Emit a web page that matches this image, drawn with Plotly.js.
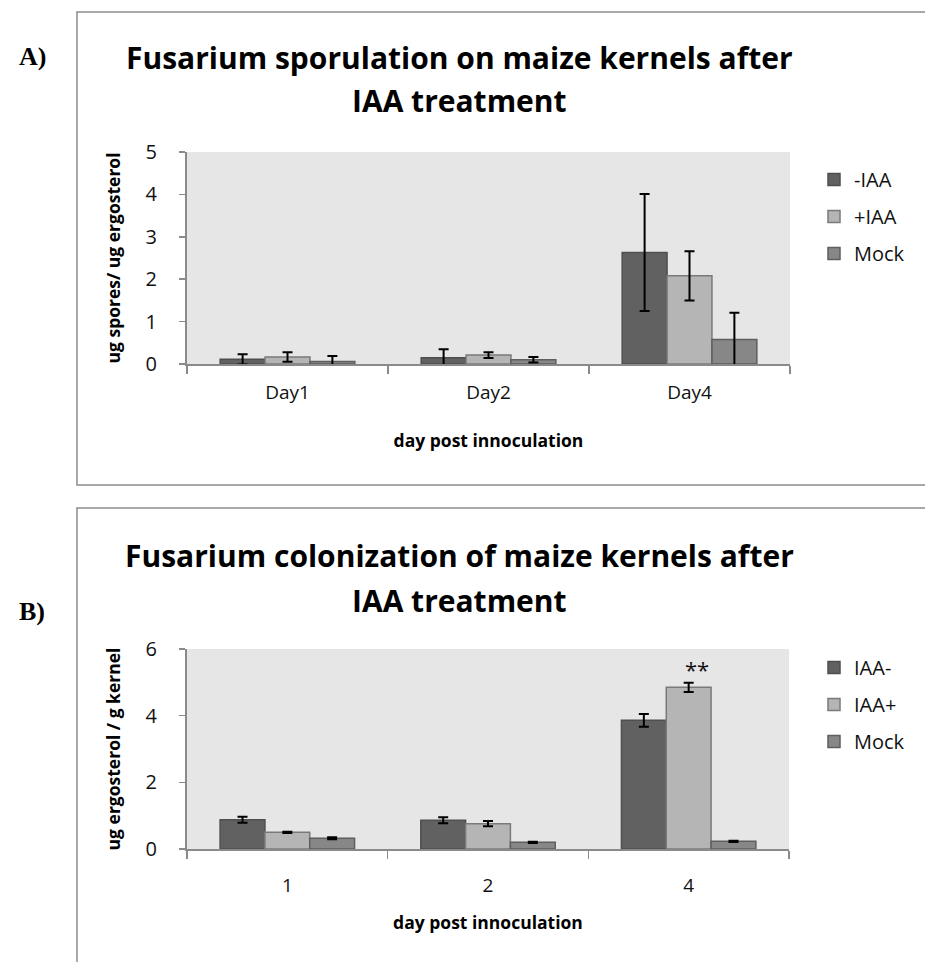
<!DOCTYPE html>
<html>
<head>
<meta charset="utf-8">
<script src="https://cdn.plot.ly/plotly-3.0.1.min.js"></script>
<style>html,body{margin:0;padding:0;background:#fff;}#chart{width:925px;height:962px;}</style>
</head>
<body>
<div id="chart"></div>
<script>
// ---- Chart A data ----
const catsA = ["Day1", "Day2", "Day4"];
const minusIAA_A = [0.11, 0.15, 2.63];
const minusIAA_A_err = [0.12, 0.20, 1.38];
const plusIAA_A = [0.165, 0.21, 2.08];
const plusIAA_A_err = [0.11, 0.07, 0.58];
const mock_A = [0.06, 0.10, 0.58];
const mock_A_err = [0.13, 0.065, 0.63];
const namesA = ["-IAA", "+IAA", "Mock"];

// ---- Chart B data ----
const catsB = ["1", "2", "4"];
const iaaMinus_B = [0.88, 0.86, 3.86];
const iaaMinus_B_err = [0.09, 0.09, 0.19];
const iaaPlus_B = [0.50, 0.76, 4.85];
const iaaPlus_B_err = [0.02, 0.08, 0.14];
const mock_B = [0.32, 0.20, 0.23];
const mock_B_err = [0.03, 0.02, 0.02];
const namesB = ["IAA-", "IAA+", "Mock"];
const sigLabel = "**";
const sigValue = 5.4;

const colors = ["#616161", "#b5b5b5", "#878787"];
const lineColors = ["#4f4f4f", "#7a7a7a", "#5e5e5e"];
const FONT = "'Open Sans', 'Noto Sans', sans-serif";
const SERIF = "'Liberation Serif', 'DejaVu Serif', serif";

function bar(x, y, err, name, i, xa, ya, leg) {
  return {
    type: "bar", x: x, y: y, name: name,
    xaxis: xa, yaxis: ya, legend: leg, legendgroup: leg + name,
    marker: {color: colors[i], line: {color: lineColors[i], width: 1.5}},
    error_y: {type: "data", array: err, visible: true, color: "#000", thickness: 2, width: 5},
    hoverinfo: "skip"
  };
}

const data = [
  bar(catsA, minusIAA_A, minusIAA_A_err, namesA[0], 0, "x", "y", "legend"),
  bar(catsA, plusIAA_A, plusIAA_A_err, namesA[1], 1, "x", "y", "legend"),
  bar(catsA, mock_A, mock_A_err, namesA[2], 2, "x", "y", "legend"),
  bar(catsB, iaaMinus_B, iaaMinus_B_err, namesB[0], 0, "x2", "y2", "legend2"),
  bar(catsB, iaaPlus_B, iaaPlus_B_err, namesB[1], 1, "x2", "y2", "legend2"),
  bar(catsB, mock_B, mock_B_err, namesB[2], 2, "x2", "y2", "legend2")
];

const W = 925, H = 962;
const px = v => v / W;
const py = v => 1 - v / H;

const xaxisBase = {
  type: "category", showgrid: false, zeroline: false,
  showline: true, linecolor: "#8a8a8a", linewidth: 2,
  ticks: "outside", tickson: "boundaries", ticklen: 8, tickcolor: "#8a8a8a", tickwidth: 1.5,
  tickfont: {family: FONT, size: 19, color: "#111"},
  range: [-0.5, 2.5], autorange: false,
  fixedrange: true
};
const yaxisBase = {
  showgrid: false, zeroline: false,
  showline: true, linecolor: "#8a8a8a", linewidth: 2,
  ticks: "outside", ticklen: 6, tickcolor: "#8a8a8a", tickwidth: 1.5,
  ticklabelstandoff: 18,
  tickfont: {family: FONT, size: 20, color: "#111"},
  fixedrange: true
};
const axTitleFont = {family: FONT, size: 17.5, color: "#000"};

const legendBase = {
  font: {family: FONT, size: 20, color: "#111"},
  bgcolor: "rgba(0,0,0,0)", traceorder: "grouped", tracegroupgap: 8,
  xanchor: "left", yanchor: "top", itemwidth: 30
};

const titleFont = {family: FONT, size: 30, color: "#000"};

const layout = {
  width: W, height: H,
  margin: {l: 0, r: 0, t: 0, b: 0},
  paper_bgcolor: "#fff",
  plot_bgcolor: "#e6e6e6",
  barmode: "group", bargap: 0.33, bargroupgap: 0,
  showlegend: true,
  font: {family: FONT, color: "#000"},
  xaxis: Object.assign({}, xaxisBase, {domain: [px(187), px(790)], anchor: "y", ticklabelstandoff: 10,
    title: {text: "<b>day post innoculation</b>", font: axTitleFont, standoff: 31}}),
  yaxis: Object.assign({}, yaxisBase, {domain: [py(364), py(152)], anchor: "x", range: [0, 5], dtick: 1,
    title: {text: "<b>ug spores/ ug ergosterol</b>", font: axTitleFont, standoff: 20}}),
  xaxis2: Object.assign({}, xaxisBase, {domain: [px(187), px(789)], anchor: "y2", ticklabelstandoff: 18,
    title: {text: "<b>day post innoculation</b>", font: axTitleFont, standoff: 20}}),
  yaxis2: Object.assign({}, yaxisBase, {domain: [py(849), py(649)], anchor: "x2", range: [0, 6], dtick: 2,
    title: {text: "<b>ug ergosterol / g kernel</b>", font: axTitleFont, standoff: 20}}),
  legend: Object.assign({}, legendBase, {x: px(814), y: py(160)}),
  legend2: Object.assign({}, legendBase, {x: px(814), y: py(648)}),
  shapes: [
    {type: "rect", xref: "paper", yref: "paper", x0: px(77), x1: 1.02, y0: py(485), y1: py(12),
      line: {color: "#8c8c8c", width: 1.5}, fillcolor: "rgba(0,0,0,0)", layer: "below"},
    {type: "rect", xref: "paper", yref: "paper", x0: px(77), x1: 1.02, y0: -0.02, y1: py(508),
      line: {color: "#8c8c8c", width: 1.5}, fillcolor: "rgba(0,0,0,0)", layer: "below"}
  ],
  annotations: [
    {xref: "paper", yref: "paper", x: px(459), y: py(58), text: "<b>Fusarium sporulation on maize kernels after</b>",
      showarrow: false, font: titleFont, xanchor: "center", yanchor: "middle"},
    {xref: "paper", yref: "paper", x: px(459), y: py(101), text: "<b>IAA treatment</b>",
      showarrow: false, font: titleFont, xanchor: "center", yanchor: "middle"},
    {xref: "paper", yref: "paper", x: px(459), y: py(555), text: "<b>Fusarium colonization of maize kernels after</b>",
      showarrow: false, font: titleFont, xanchor: "center", yanchor: "middle"},
    {xref: "paper", yref: "paper", x: px(459), y: py(600), text: "<b>IAA treatment</b>",
      showarrow: false, font: titleFont, xanchor: "center", yanchor: "middle"},
    {xref: "paper", yref: "paper", x: px(32), y: py(56), text: "<b>A)</b>", xanchor: "center", yanchor: "middle",
      showarrow: false, font: {family: SERIF, size: 26, color: "#000"}},
    {xref: "paper", yref: "paper", x: px(32), y: py(611), text: "<b>B)</b>", xanchor: "center", yanchor: "middle",
      showarrow: false, font: {family: SERIF, size: 26, color: "#000"}},
    {xref: "x2 domain", yref: "y2", x: 5 / 6, y: sigValue, text: sigLabel, xshift: 8,
      xanchor: "center", yanchor: "middle",
      showarrow: false, font: {family: FONT, size: 22, color: "#111"}}
  ]
};

Plotly.newPlot("chart", data, layout, {staticPlot: true, displayModeBar: false});
</script>
</body>
</html>
